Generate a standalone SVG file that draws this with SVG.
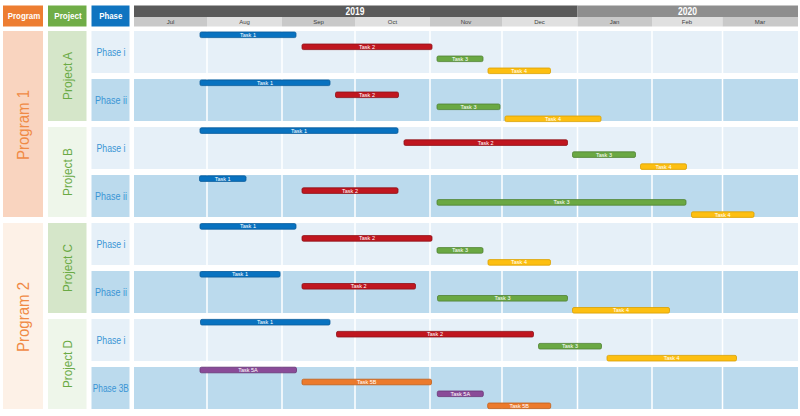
<svg xmlns="http://www.w3.org/2000/svg" width="800" height="416" viewBox="0 0 800 416">
<style>
text{font-family:"Liberation Sans",Arial,sans-serif}
.hdr{font-size:9px;font-weight:bold;fill:#fff;text-anchor:middle}
.yr{font-size:10px;font-weight:bold;fill:#fff;text-anchor:middle}
.mo{font-size:6px;fill:#404040;text-anchor:middle}
.lt{fill:#e6f0f8}
.dk{fill:#bbdaed}
.prog{font-size:16.5px;fill:#f08a45;text-anchor:middle}
.proj{font-size:12.5px;fill:#6aaa45;text-anchor:middle}
.ph{font-size:10.5px;fill:#3a95d5;text-anchor:middle}
.grid{stroke:#fff;stroke-width:1.5}
.bar{stroke-width:0.8}
.b{fill:#0872c0;stroke:#0a5c9a}
.r{fill:#c0161f;stroke:#8e1016}
.g{fill:#6aa843;stroke:#4f8232}
.y{fill:#fdbf11;stroke:#d99f00}
.p{fill:#8a4b98;stroke:#683473}
.o{fill:#ec7a2c;stroke:#c25e17}
.tl{font-size:5.5px;fill:#fff;text-anchor:middle}
</style>
<rect width="800" height="416" fill="#fff"/>
<g id="header">
<rect x="3" y="5.5" width="40" height="21" fill="#ed7d31"/>
<text class="hdr" x="24" y="19.3" textLength="32.5" lengthAdjust="spacingAndGlyphs">Program</text>
<rect x="48" y="5.5" width="38.5" height="21" fill="#70ad47"/>
<text class="hdr" x="68" y="19.3" textLength="27.5" lengthAdjust="spacingAndGlyphs">Project</text>
<rect x="91.5" y="5.5" width="38" height="21" fill="#0f74c0"/>
<text class="hdr" x="110.8" y="19.3" textLength="23" lengthAdjust="spacingAndGlyphs">Phase</text>
<rect x="134" y="5.5" width="443.5" height="11.5" fill="#5a5a5a"/>
<text class="yr" x="355" y="15" textLength="19" lengthAdjust="spacingAndGlyphs">2019</text>
<rect x="577.5" y="5.5" width="220.5" height="11.5" fill="#8e8e8e"/>
<text class="yr" x="687.5" y="15" textLength="19" lengthAdjust="spacingAndGlyphs">2020</text>
<rect x="134" y="17" width="73" height="9.5" fill="#c9c9c9"/>
<rect x="207" y="17" width="75" height="9.5" fill="#e0e0e0"/>
<rect x="282" y="17" width="73" height="9.5" fill="#c9c9c9"/>
<rect x="355" y="17" width="75" height="9.5" fill="#e0e0e0"/>
<rect x="430" y="17" width="72" height="9.5" fill="#c9c9c9"/>
<rect x="502" y="17" width="75.5" height="9.5" fill="#e0e0e0"/>
<rect x="577.5" y="17" width="74.5" height="9.5" fill="#c9c9c9"/>
<rect x="652" y="17" width="70.5" height="9.5" fill="#e0e0e0"/>
<rect x="722.5" y="17" width="75.5" height="9.5" fill="#c9c9c9"/>
<text class="mo" x="170.5" y="24">Jul</text>
<text class="mo" x="244.5" y="24">Aug</text>
<text class="mo" x="318.5" y="24">Sep</text>
<text class="mo" x="392.5" y="24">Oct</text>
<text class="mo" x="466" y="24">Nov</text>
<text class="mo" x="539.5" y="24">Dec</text>
<text class="mo" x="614.5" y="24">Jan</text>
<text class="mo" x="687" y="24">Feb</text>
<text class="mo" x="760" y="24">Mar</text>
</g>
<g id="program1">
<rect x="3" y="31" width="40" height="186" fill="#f9d4bf"/>
<text class="prog" transform="translate(28.5,125) rotate(-90)" textLength="70" lengthAdjust="spacingAndGlyphs">Program 1</text>
</g>
<g id="program2">
<rect x="3" y="223" width="40" height="186" fill="#fdf1e7"/>
<text class="prog" transform="translate(28.5,317) rotate(-90)" textLength="70" lengthAdjust="spacingAndGlyphs">Program 2</text>
</g>
<g id="projectA">
<rect x="48" y="31" width="38.5" height="90" fill="#d5e6c9"/>
<text class="proj" transform="translate(71.8,76) rotate(-90)" textLength="48" lengthAdjust="spacingAndGlyphs">Project A</text>
</g>
<g id="projectB">
<rect x="48" y="127" width="38.5" height="90" fill="#eef6ea"/>
<text class="proj" transform="translate(71.8,172) rotate(-90)" textLength="48" lengthAdjust="spacingAndGlyphs">Project B</text>
</g>
<g id="projectC">
<rect x="48" y="223" width="38.5" height="90" fill="#d5e6c9"/>
<text class="proj" transform="translate(71.8,268) rotate(-90)" textLength="48" lengthAdjust="spacingAndGlyphs">Project C</text>
</g>
<g id="projectD">
<rect x="48" y="319" width="38.5" height="90" fill="#eef6ea"/>
<text class="proj" transform="translate(71.8,364) rotate(-90)" textLength="48" lengthAdjust="spacingAndGlyphs">Project D</text>
</g>
<g id="phaseA1"><rect class="lt" x="91.5" y="31" width="38" height="42"/><text class="ph" x="111" y="55.8" textLength="29" lengthAdjust="spacingAndGlyphs">Phase i</text></g>
<g id="phaseA2"><rect class="dk" x="91.5" y="79" width="38" height="42"/><text class="ph" x="111" y="103.8" textLength="32" lengthAdjust="spacingAndGlyphs">Phase ii</text></g>
<g id="phaseB1"><rect class="lt" x="91.5" y="127" width="38" height="42"/><text class="ph" x="111" y="151.8" textLength="29" lengthAdjust="spacingAndGlyphs">Phase i</text></g>
<g id="phaseB2"><rect class="dk" x="91.5" y="175" width="38" height="42"/><text class="ph" x="111" y="199.8" textLength="32" lengthAdjust="spacingAndGlyphs">Phase ii</text></g>
<g id="phaseC1"><rect class="lt" x="91.5" y="223" width="38" height="42"/><text class="ph" x="111" y="247.8" textLength="29" lengthAdjust="spacingAndGlyphs">Phase i</text></g>
<g id="phaseC2"><rect class="dk" x="91.5" y="271" width="38" height="42"/><text class="ph" x="111" y="295.8" textLength="32" lengthAdjust="spacingAndGlyphs">Phase ii</text></g>
<g id="phaseD1"><rect class="lt" x="91.5" y="319" width="38" height="42"/><text class="ph" x="111" y="343.8" textLength="29" lengthAdjust="spacingAndGlyphs">Phase i</text></g>
<g id="phaseD2"><rect class="dk" x="91.5" y="367" width="38" height="42"/><text class="ph" x="110.8" y="391.8" textLength="36" lengthAdjust="spacingAndGlyphs">Phase 3B</text></g>
<g id="timeline-rows">
<rect class="lt" x="134" y="31" width="664" height="42"/>
<rect class="dk" x="134" y="79" width="664" height="42"/>
<rect class="lt" x="134" y="127" width="664" height="42"/>
<rect class="dk" x="134" y="175" width="664" height="42"/>
<rect class="lt" x="134" y="223" width="664" height="42"/>
<rect class="dk" x="134" y="271" width="664" height="42"/>
<rect class="lt" x="134" y="319" width="664" height="42"/>
<rect class="dk" x="134" y="367" width="664" height="42"/>
<path class="grid" d="M207 31V409M282 31V409M355 31V409M430 31V409M502 31V409M577.5 31V409M652 31V409M722.5 31V409"/>
</g>
<g id="connectors"/>
<g id="tasksA1">
<rect class="bar b" x="200" y="32" width="96" height="5.6" rx="1.5"/><text class="tl" x="248" y="36.8">Task 1</text>
<rect class="bar r" x="302" y="44" width="130" height="5.6" rx="1.5"/><text class="tl" x="367" y="48.8">Task 2</text>
<rect class="bar g" x="437" y="56" width="46" height="5.6" rx="1.5"/><text class="tl" x="460" y="60.8">Task 3</text>
<rect class="bar y" x="488" y="68" width="62.5" height="5.6" rx="1.5"/><text class="tl" x="519" y="72.8">Task 4</text>
</g>
<g id="tasksA2">
<rect class="bar b" x="200" y="80" width="130" height="5.6" rx="1.5"/><text class="tl" x="265" y="84.8">Task 1</text>
<rect class="bar r" x="335.5" y="92" width="63" height="5.6" rx="1.5"/><text class="tl" x="367" y="96.8">Task 2</text>
<rect class="bar g" x="437" y="104" width="63" height="5.6" rx="1.5"/><text class="tl" x="468.5" y="108.8">Task 3</text>
<rect class="bar y" x="505" y="116" width="96" height="5.6" rx="1.5"/><text class="tl" x="553" y="120.8">Task 4</text>
</g>
<g id="tasksB1">
<rect class="bar b" x="200" y="127.8" width="198" height="5.6" rx="1.5"/><text class="tl" x="299" y="132.6">Task 1</text>
<rect class="bar r" x="404" y="139.8" width="163.5" height="5.6" rx="1.5"/><text class="tl" x="485.7" y="144.6">Task 2</text>
<rect class="bar g" x="572.5" y="151.8" width="63" height="5.6" rx="1.5"/><text class="tl" x="604" y="156.6">Task 3</text>
<rect class="bar y" x="640.5" y="163.8" width="46" height="5.6" rx="1.5"/><text class="tl" x="663.5" y="168.6">Task 4</text>
</g>
<g id="tasksB2">
<rect class="bar b" x="199.5" y="175.8" width="46.5" height="5.6" rx="1.5"/><text class="tl" x="222.7" y="180.6">Task 1</text>
<rect class="bar r" x="302" y="187.8" width="96" height="5.6" rx="1.5"/><text class="tl" x="350" y="192.6">Task 2</text>
<rect class="bar g" x="437" y="199.6" width="249" height="5.6" rx="1.5"/><text class="tl" x="561.5" y="204.4">Task 3</text>
<rect class="bar y" x="691.5" y="211.8" width="62.5" height="5.6" rx="1.5"/><text class="tl" x="722.7" y="216.6">Task 4</text>
</g>
<g id="tasksC1">
<rect class="bar b" x="200" y="223.6" width="96" height="5.6" rx="1.5"/><text class="tl" x="248" y="228.4">Task 1</text>
<rect class="bar r" x="302" y="235.6" width="130" height="5.6" rx="1.5"/><text class="tl" x="367" y="240.4">Task 2</text>
<rect class="bar g" x="437" y="247.6" width="46" height="5.6" rx="1.5"/><text class="tl" x="460" y="252.4">Task 3</text>
<rect class="bar y" x="488" y="259.6" width="62.5" height="5.6" rx="1.5"/><text class="tl" x="519" y="264.4">Task 4</text>
</g>
<g id="tasksC2">
<rect class="bar b" x="200" y="271.5" width="80" height="5.6" rx="1.5"/><text class="tl" x="240" y="276.3">Task 1</text>
<rect class="bar r" x="302" y="283.5" width="113.5" height="5.6" rx="1.5"/><text class="tl" x="358.7" y="288.3">Task 2</text>
<rect class="bar g" x="437.5" y="295.5" width="130" height="5.6" rx="1.5"/><text class="tl" x="502.5" y="300.3">Task 3</text>
<rect class="bar y" x="572.5" y="307.5" width="97" height="5.6" rx="1.5"/><text class="tl" x="621" y="312.3">Task 4</text>
</g>
<g id="tasksD1">
<rect class="bar b" x="200.5" y="319.4" width="129.5" height="5.6" rx="1.5"/><text class="tl" x="265" y="324.2">Task 1</text>
<rect class="bar r" x="336.5" y="331.4" width="197" height="5.6" rx="1.5"/><text class="tl" x="435" y="336.2">Task 2</text>
<rect class="bar g" x="538.5" y="343.4" width="63" height="5.6" rx="1.5"/><text class="tl" x="570" y="348.2">Task 3</text>
<rect class="bar y" x="607" y="355.4" width="129.5" height="5.6" rx="1.5"/><text class="tl" x="671.7" y="360.2">Task 4</text>
</g>
<g id="tasksD2">
<rect class="bar p" x="200" y="367.2" width="96.5" height="5.6" rx="1.5"/><text class="tl" x="248" y="372">Task 5A</text>
<rect class="bar o" x="302" y="379.2" width="129.5" height="5.6" rx="1.5"/><text class="tl" x="366.7" y="384">Task 5B</text>
<rect class="bar p" x="437.3" y="391" width="46" height="5.6" rx="1.5"/><text class="tl" x="460.3" y="395.8">Task 5A</text>
<rect class="bar o" x="487.7" y="403" width="63" height="5.6" rx="1.5"/><text class="tl" x="519.2" y="407.8">Task 5B</text>
</g>
</svg>
